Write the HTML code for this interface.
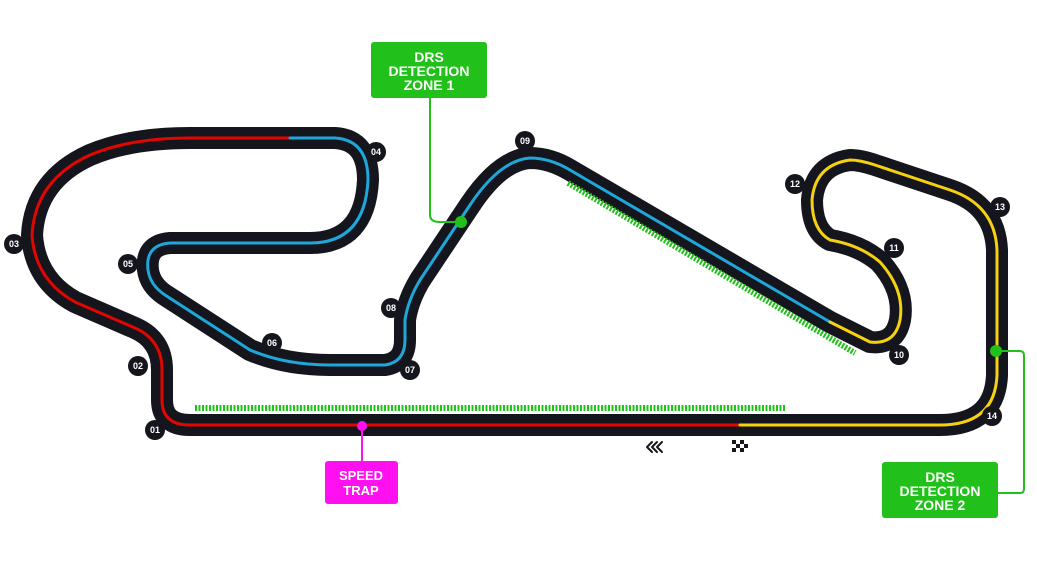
<!DOCTYPE html>
<html><head><style>
body{margin:0;background:#fff;width:1037px;height:583px;overflow:hidden}
.t{font-family:"Liberation Sans",sans-serif;font-weight:bold}
</style></head><body>
<svg width="1037" height="583" viewBox="0 0 1037 583" xmlns="http://www.w3.org/2000/svg">
<g fill="none" stroke-linecap="round" stroke-linejoin="round">
<path d="M740,425 L190,425 Q162,425 162,400 L162,370 Q162,340 135,328 L75,302 Q35,280 32,235 Q35,180 90,155 Q130,138 190,138 L335,138 Q368,140 368,180 Q365,243 310,243 L170,243 Q145,245 148,270 Q150,285 165,295 L250,350 Q285,365 330,365 L385,365 Q405,362 405,340 L405,320 Q408,300 420,280 L470,205 Q500,160 530,158 Q550,158 570,170 L830,322 L870,342 Q895,345 900,320 Q905,290 880,262 Q860,245 830,240 Q812,230 812,200 Q815,165 850,160 Q860,160 875,165 L950,190 Q995,205 997,250 L997,375 Q995,425 940,425 Z" stroke="#15151e" stroke-width="22"/>
<path d="M740,425 L190,425 Q162,425 162,400 L162,370 Q162,340 135,328 L75,302 Q35,280 32,235 Q35,180 90,155 Q130,138 190,138 L290,138" stroke="#e10600" stroke-width="3"/>
<path d="M290,138 L335,138 Q368,140 368,180 Q365,243 310,243 L170,243 Q145,245 148,270 Q150,285 165,295 L250,350 Q285,365 330,365 L385,365 Q405,362 405,340 L405,320 Q408,300 420,280 L470,205 Q500,160 530,158 Q550,158 570,170 L830,322" stroke="#1ea7d8" stroke-width="3"/>
<path d="M830,322 L870,342 Q895,345 900,320 Q905,290 880,262 Q860,245 830,240 Q812,230 812,200 Q815,165 850,160 Q860,160 875,165 L950,190 Q995,205 997,250 L997,375 Q995,425 940,425 L740,425" stroke="#f5d10f" stroke-width="3"/>
<line x1="195" y1="408" x2="785" y2="408" stroke="#22c01a" stroke-width="6" stroke-dasharray="2 1.5" stroke-linecap="butt"/>
<line x1="568" y1="183" x2="855" y2="353" stroke="#22c01a" stroke-width="6" stroke-dasharray="2 1.5" stroke-linecap="butt"/>
<path d="M430,98 L430,215 Q430,222 440,222 L461,222" stroke="#22c01a" stroke-width="2"/>
<path d="M996,351 L1020,351 Q1024,351 1024,356 L1024,489 Q1024,493 1020,493 L998,493" stroke="#22c01a" stroke-width="2"/>
<line x1="362" y1="426" x2="362" y2="461" stroke="#ff10f0" stroke-width="2"/>
<path d="M652,442 L647,447 L652,452 M657,442 L652,447 L657,452 M662,442 L657,447 L662,452" stroke="#15151e" stroke-width="2"/>
</g>
<circle cx="461" cy="222" r="6" fill="#22c01a"/>
<circle cx="996" cy="351" r="6" fill="#22c01a"/>
<circle cx="362" cy="426" r="5" fill="#ff10f0"/>
<g fill="#15151e"><rect x="732" y="440" width="4" height="4"/><rect x="740" y="440" width="4" height="4"/><rect x="736" y="444" width="4" height="4"/><rect x="744" y="444" width="4" height="4"/><rect x="732" y="448" width="4" height="4"/><rect x="740" y="448" width="4" height="4"/></g>
<g class="t" font-size="9" fill="#fff" text-anchor="middle">
<g><circle cx="155" cy="430" r="10" fill="#15151e"/><text x="155" y="433">01</text></g>
<g><circle cx="138" cy="366" r="10" fill="#15151e"/><text x="138" y="369">02</text></g>
<g><circle cx="14" cy="244" r="10" fill="#15151e"/><text x="14" y="247">03</text></g>
<g><circle cx="376" cy="152" r="10" fill="#15151e"/><text x="376" y="155">04</text></g>
<g><circle cx="128" cy="264" r="10" fill="#15151e"/><text x="128" y="267">05</text></g>
<g><circle cx="272" cy="343" r="10" fill="#15151e"/><text x="272" y="346">06</text></g>
<g><circle cx="410" cy="370" r="10" fill="#15151e"/><text x="410" y="373">07</text></g>
<g><circle cx="391" cy="308" r="10" fill="#15151e"/><text x="391" y="311">08</text></g>
<g><circle cx="525" cy="141" r="10" fill="#15151e"/><text x="525" y="144">09</text></g>
<g><circle cx="899" cy="355" r="10" fill="#15151e"/><text x="899" y="358">10</text></g>
<g><circle cx="894" cy="248" r="10" fill="#15151e"/><text x="894" y="251">11</text></g>
<g><circle cx="795" cy="184" r="10" fill="#15151e"/><text x="795" y="187">12</text></g>
<g><circle cx="1000" cy="207" r="10" fill="#15151e"/><text x="1000" y="210">13</text></g>
<g><circle cx="992" cy="416" r="10" fill="#15151e"/><text x="992" y="419">14</text></g>
</g>
<rect x="371" y="42" width="116" height="56" rx="3" fill="#22c01a"/>
<g class="t" font-size="14" fill="#fff" text-anchor="middle"><text x="429" y="62">DRS</text><text x="429" y="76">DETECTION</text><text x="429" y="90">ZONE 1</text></g>
<rect x="882" y="462" width="116" height="56" rx="3" fill="#22c01a"/>
<g class="t" font-size="14" fill="#fff" text-anchor="middle"><text x="940" y="482">DRS</text><text x="940" y="496">DETECTION</text><text x="940" y="510">ZONE 2</text></g>
<rect x="325" y="461" width="73" height="43" rx="3" fill="#ff10f0"/>
<g class="t" font-size="13" fill="#fff" text-anchor="middle"><text x="361" y="480">SPEED</text><text x="361" y="495">TRAP</text></g>
</svg>
</body></html>
